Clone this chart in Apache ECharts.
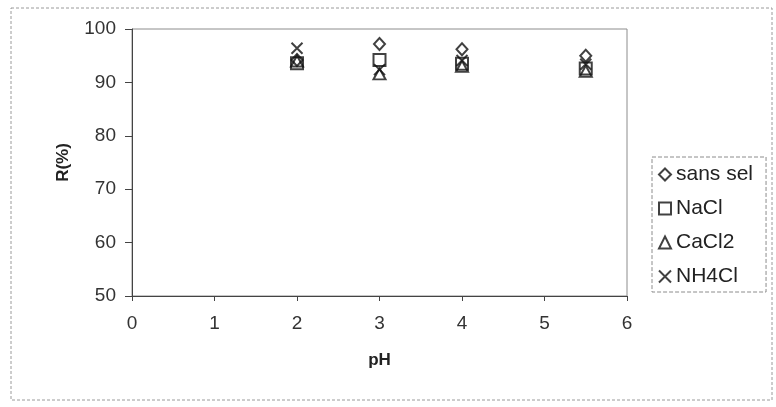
<!DOCTYPE html>
<html><head><meta charset="utf-8">
<script src="https://cdn.jsdelivr.net/npm/echarts@6/dist/echarts.min.js"></script>
<style>html,body{margin:0;padding:0;background:#fff}#c{width:776px;height:407px}</style>
</head><body><div id="c"></div>
<script>
var phValues = [2, 3, 4, 5.5];
var sansSel = [94.2, 97.2, 96.2, 95.0];
var naCl    = [93.6, 94.2, 93.5, 92.6];
var caCl2   = [94.0, 91.6, 93.0, 92.1];
var nh4Cl   = [96.4, 92.4, 94.1, 93.4];
var seriesNames = ['sans sel', 'NaCl', 'CaCl2', 'NH4Cl'];
var xTicks = [0, 1, 2, 3, 4, 5, 6];
var yTicks = [50, 60, 70, 80, 90, 100];

var symbols = ['diamond', 'rect', 'triangle', 'path://M0,0L10,10M10,0L0,10'];
var sizes = [[11, 12], [12, 12], [12, 11], [11, 11]];
var allValues = [sansSel, naCl, caCl2, nh4Cl];

function pairs(vals) { return phValues.map(function (p, i) { return [p, vals[i]]; }); }

var chart = echarts.init(document.getElementById('c'), null, {renderer: 'canvas'});
var font = 'Liberation Sans, Arial, sans-serif';
chart.setOption({
  animation: false,
  backgroundColor: '#fff',
  graphic: [{
    type: 'rect', shape: {x: 11, y: 8, width: 761, height: 392},
    style: {fill: 'none', stroke: '#9a9a9a', lineWidth: 1, lineDash: [3, 2]}, silent: true
  }],
  grid: {left: 132, right: 149, top: 29, bottom: 111, show: true,
         borderColor: '#8c8c8c', borderWidth: 1, backgroundColor: 'transparent'},
  legend: {
    orient: 'vertical', left: 652, top: 157,
    padding: [7, 13, 5, 6], itemGap: 13, itemWidth: 12, itemHeight: 12, itemTextGap: 7,
    borderColor: '#8c8c8c', borderWidth: 1, borderType: 'dashed',
    textStyle: {fontFamily: font, fontSize: 21, color: '#222'},
    data: seriesNames.map(function (n, i) { return {name: n, icon: symbols[i]}; })
  },
  xAxis: {
    type: 'value', min: xTicks[0], max: xTicks[xTicks.length - 1], interval: 1,
    name: 'pH', nameLocation: 'middle', nameGap: 56,
    nameTextStyle: {fontFamily: font, fontSize: 17, fontWeight: 'bold', color: '#222'},
    axisLine: {show: true, onZero: false, lineStyle: {color: '#444', width: 1}},
    axisTick: {show: true, inside: false, length: 5, lineStyle: {color: '#444'}},
    axisLabel: {fontFamily: font, fontSize: 19, color: '#333', margin: 18},
    splitLine: {show: false}
  },
  yAxis: {
    type: 'value', min: yTicks[0], max: yTicks[yTicks.length - 1], interval: 10,
    name: 'R(%)', nameLocation: 'middle', nameGap: 60, nameRotate: 90,
    nameTextStyle: {fontFamily: font, fontSize: 17, fontWeight: 'bold', color: '#222'},
    axisLine: {show: true, onZero: false, lineStyle: {color: '#444', width: 1}},
    axisTick: {show: true, inside: false, length: 7, lineStyle: {color: '#444'}},
    axisLabel: {fontFamily: font, fontSize: 19, color: '#333', margin: 16},
    splitLine: {show: false}
  },
  series: seriesNames.map(function (n, i) {
    return {
      name: n, type: 'scatter', data: pairs(allValues[i]),
      symbol: symbols[i], symbolSize: sizes[i],
      itemStyle: {color: 'rgba(0,0,0,0)', borderColor: '#111', borderWidth: 2}
    };
  })
});
</script></body></html>
